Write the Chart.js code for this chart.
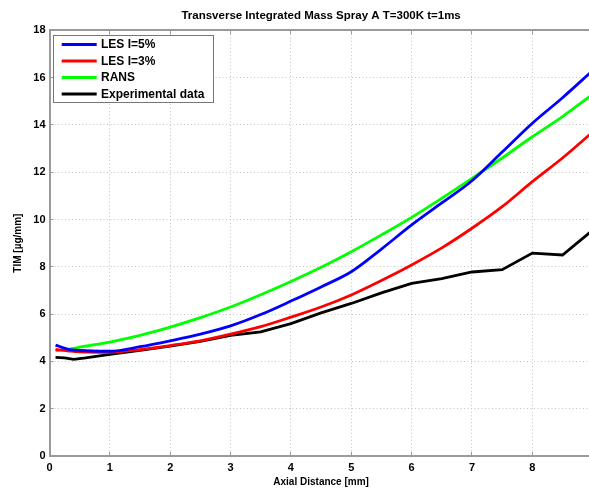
<!DOCTYPE html>
<html><head><meta charset="utf-8">
<script src="https://cdn.jsdelivr.net/npm/chart.js@4"></script>
<style>html,body{margin:0;padding:0;overflow:hidden;background:#fff}canvas{display:block}</style>
</head><body>
<canvas id="c" width="610" height="491"></canvas>
<script>
const titleText = 'Transverse Integrated Mass Spray A T=300K t=1ms';
const xLabel = 'Axial Distance [mm]';
const yLabel = 'TIM [µg/mm]';
const seriesNames = ['LES I=5%', 'LES I=3%', 'RANS', 'Experimental data'];
const seriesColors = ['#0000ff', '#ff0000', '#00ff00', '#000000'];

const xModel = [0.1, 0.3, 0.5, 1, 1.5, 2, 2.5, 3, 3.5, 4, 4.5, 5, 5.5, 6, 6.5, 7, 7.5, 8, 8.5, 9];
const les5 = [4.69, 4.52, 4.46, 4.43, 4.62, 4.87, 5.15, 5.5, 5.98, 6.55, 7.15, 7.79, 8.75, 9.77, 10.7, 11.64, 12.85, 14.07, 15.15, 16.3];
const les3 = [4.51, 4.45, 4.4, 4.38, 4.5, 4.67, 4.87, 5.15, 5.47, 5.87, 6.3, 6.81, 7.42, 8.08, 8.8, 9.63, 10.54, 11.6, 12.6, 13.7];
const rans = [4.45, 4.5, 4.6, 4.82, 5.1, 5.45, 5.85, 6.3, 6.82, 7.38, 7.98, 8.64, 9.35, 10.09, 10.9, 11.74, 12.6, 13.5, 14.35, 15.3];

const xExp = [0.1, 0.25, 0.4, 0.6, 1, 1.5, 2, 2.5, 3, 3.5, 4, 4.5, 5, 5.5, 6, 6.5, 7, 7.5, 8, 8.5, 9];
const expData = [4.17, 4.15, 4.09, 4.15, 4.3, 4.47, 4.65, 4.85, 5.1, 5.25, 5.6, 6.05, 6.45, 6.9, 7.3, 7.5, 7.78, 7.88, 8.58, 8.5, 9.55];

const xTickValues = [0, 1, 2, 3, 4, 5, 6, 7, 8, 9];
const yTickValues = [0, 2, 4, 6, 8, 10, 12, 14, 16, 18];

const FONT = "'Liberation Sans', Arial, sans-serif";
Chart.defaults.font.family = FONT;
Chart.defaults.color = '#000';

const pts = (xs, ys) => xs.map((x, i) => ({x: x, y: ys[i]}));
const AXIS = '#9a9a9a';
const GRID = '#c2c2c2';

function mkDs(i, data, smooth) {
  return {
    label: seriesNames[i], data: data,
    borderColor: seriesColors[i], backgroundColor: seriesColors[i],
    borderWidth: 2.8, pointRadius: 0, fill: false,
    tension: 0, cubicInterpolationMode: smooth ? 'monotone' : 'default'
  };
}

const legendBox = {
  id: 'legendBox',
  afterDraw(chart) {
    const ctx = chart.ctx;
    const bx = 53.5, by = 35.5, bw = 160, bh = 67;
    ctx.save();
    ctx.fillStyle = '#fff';
    ctx.fillRect(bx, by, bw, bh);
    ctx.strokeStyle = '#777';
    ctx.lineWidth = 1;
    ctx.strokeRect(bx, by, bw, bh);
    ctx.font = 'bold 12px ' + FONT;
    ctx.textBaseline = 'middle';
    ctx.textAlign = 'left';
    chart.data.datasets.forEach((ds, i) => {
      const y = 44.5 + 16.5 * i;
      ctx.strokeStyle = ds.borderColor;
      ctx.lineWidth = 3;
      ctx.beginPath(); ctx.moveTo(61.7, y); ctx.lineTo(96.7, y); ctx.stroke();
      ctx.fillStyle = '#000';
      ctx.fillText(ds.label, 101, y + 0.5);
    });
    ctx.restore();
  }
};

const setTicks = vals => s => { s.ticks = vals.map(v => ({value: v})); };

new Chart(document.getElementById('c'), {
  type: 'line',
  data: {
    datasets: [
      mkDs(0, pts(xModel, les5), true),
      mkDs(1, pts(xModel, les3), true),
      mkDs(2, pts(xModel, rans), true),
      mkDs(3, pts(xExp, expData), false)
    ]
  },
  options: {
    responsive: false, animation: false, devicePixelRatio: 1,
    layout: {padding: {left: 0, right: 17.3, top: 0, bottom: 0}},
    plugins: {
      legend: {display: false},
      tooltip: {enabled: false},
      title: {
        display: true, text: titleText, fullSize: false,
        font: {size: 11.5, weight: 'bold'}, color: '#000',
        padding: {top: 8.5, bottom: 8}
      }
    },
    scales: {
      x: {
        type: 'linear', position: 'bottom', min: 0, max: 9,
        afterBuildTicks: setTicks(xTickValues),
        afterFit: s => { s.height = 35; },
        grid: {color: GRID, lineWidth: 1, drawTicks: true, tickLength: -4, tickColor: AXIS, tickWidth: 1},
        border: {display: true, color: AXIS, width: 2, dash: [1, 2.5]},
        ticks: {font: {size: 11, weight: 'bold'}, color: '#000', padding: 9, maxRotation: 0, autoSkip: false},
        title: {display: true, text: xLabel, font: {size: 10, weight: 'bold'}, color: '#000', padding: {top: 0, bottom: 3}}
      },
      x2: {
        type: 'linear', position: 'top', min: 0, max: 9,
        afterBuildTicks: setTicks(xTickValues),
        afterFit: s => { s.height = 0; },
        grid: {drawOnChartArea: false, drawTicks: true, tickLength: -4, tickColor: AXIS, tickWidth: 1},
        border: {display: true, color: AXIS, width: 2},
        ticks: {display: false}
      },
      y: {
        type: 'linear', position: 'left', min: 0, max: 18,
        afterBuildTicks: setTicks(yTickValues),
        afterFit: s => { s.width = 49.5; },
        grid: {color: GRID, lineWidth: 1, drawTicks: true, tickLength: -4, tickColor: AXIS, tickWidth: 1},
        border: {display: true, color: AXIS, width: 2, dash: [1, 2.5]},
        ticks: {font: {size: 11, weight: 'bold'}, color: '#000', padding: 8},
        title: {display: true, text: yLabel, font: {size: 10, weight: 'bold'}, color: '#000', padding: {top: 12, bottom: 0}}
      }
    }
  },
  plugins: [legendBox]
});
</script>
</body></html>
